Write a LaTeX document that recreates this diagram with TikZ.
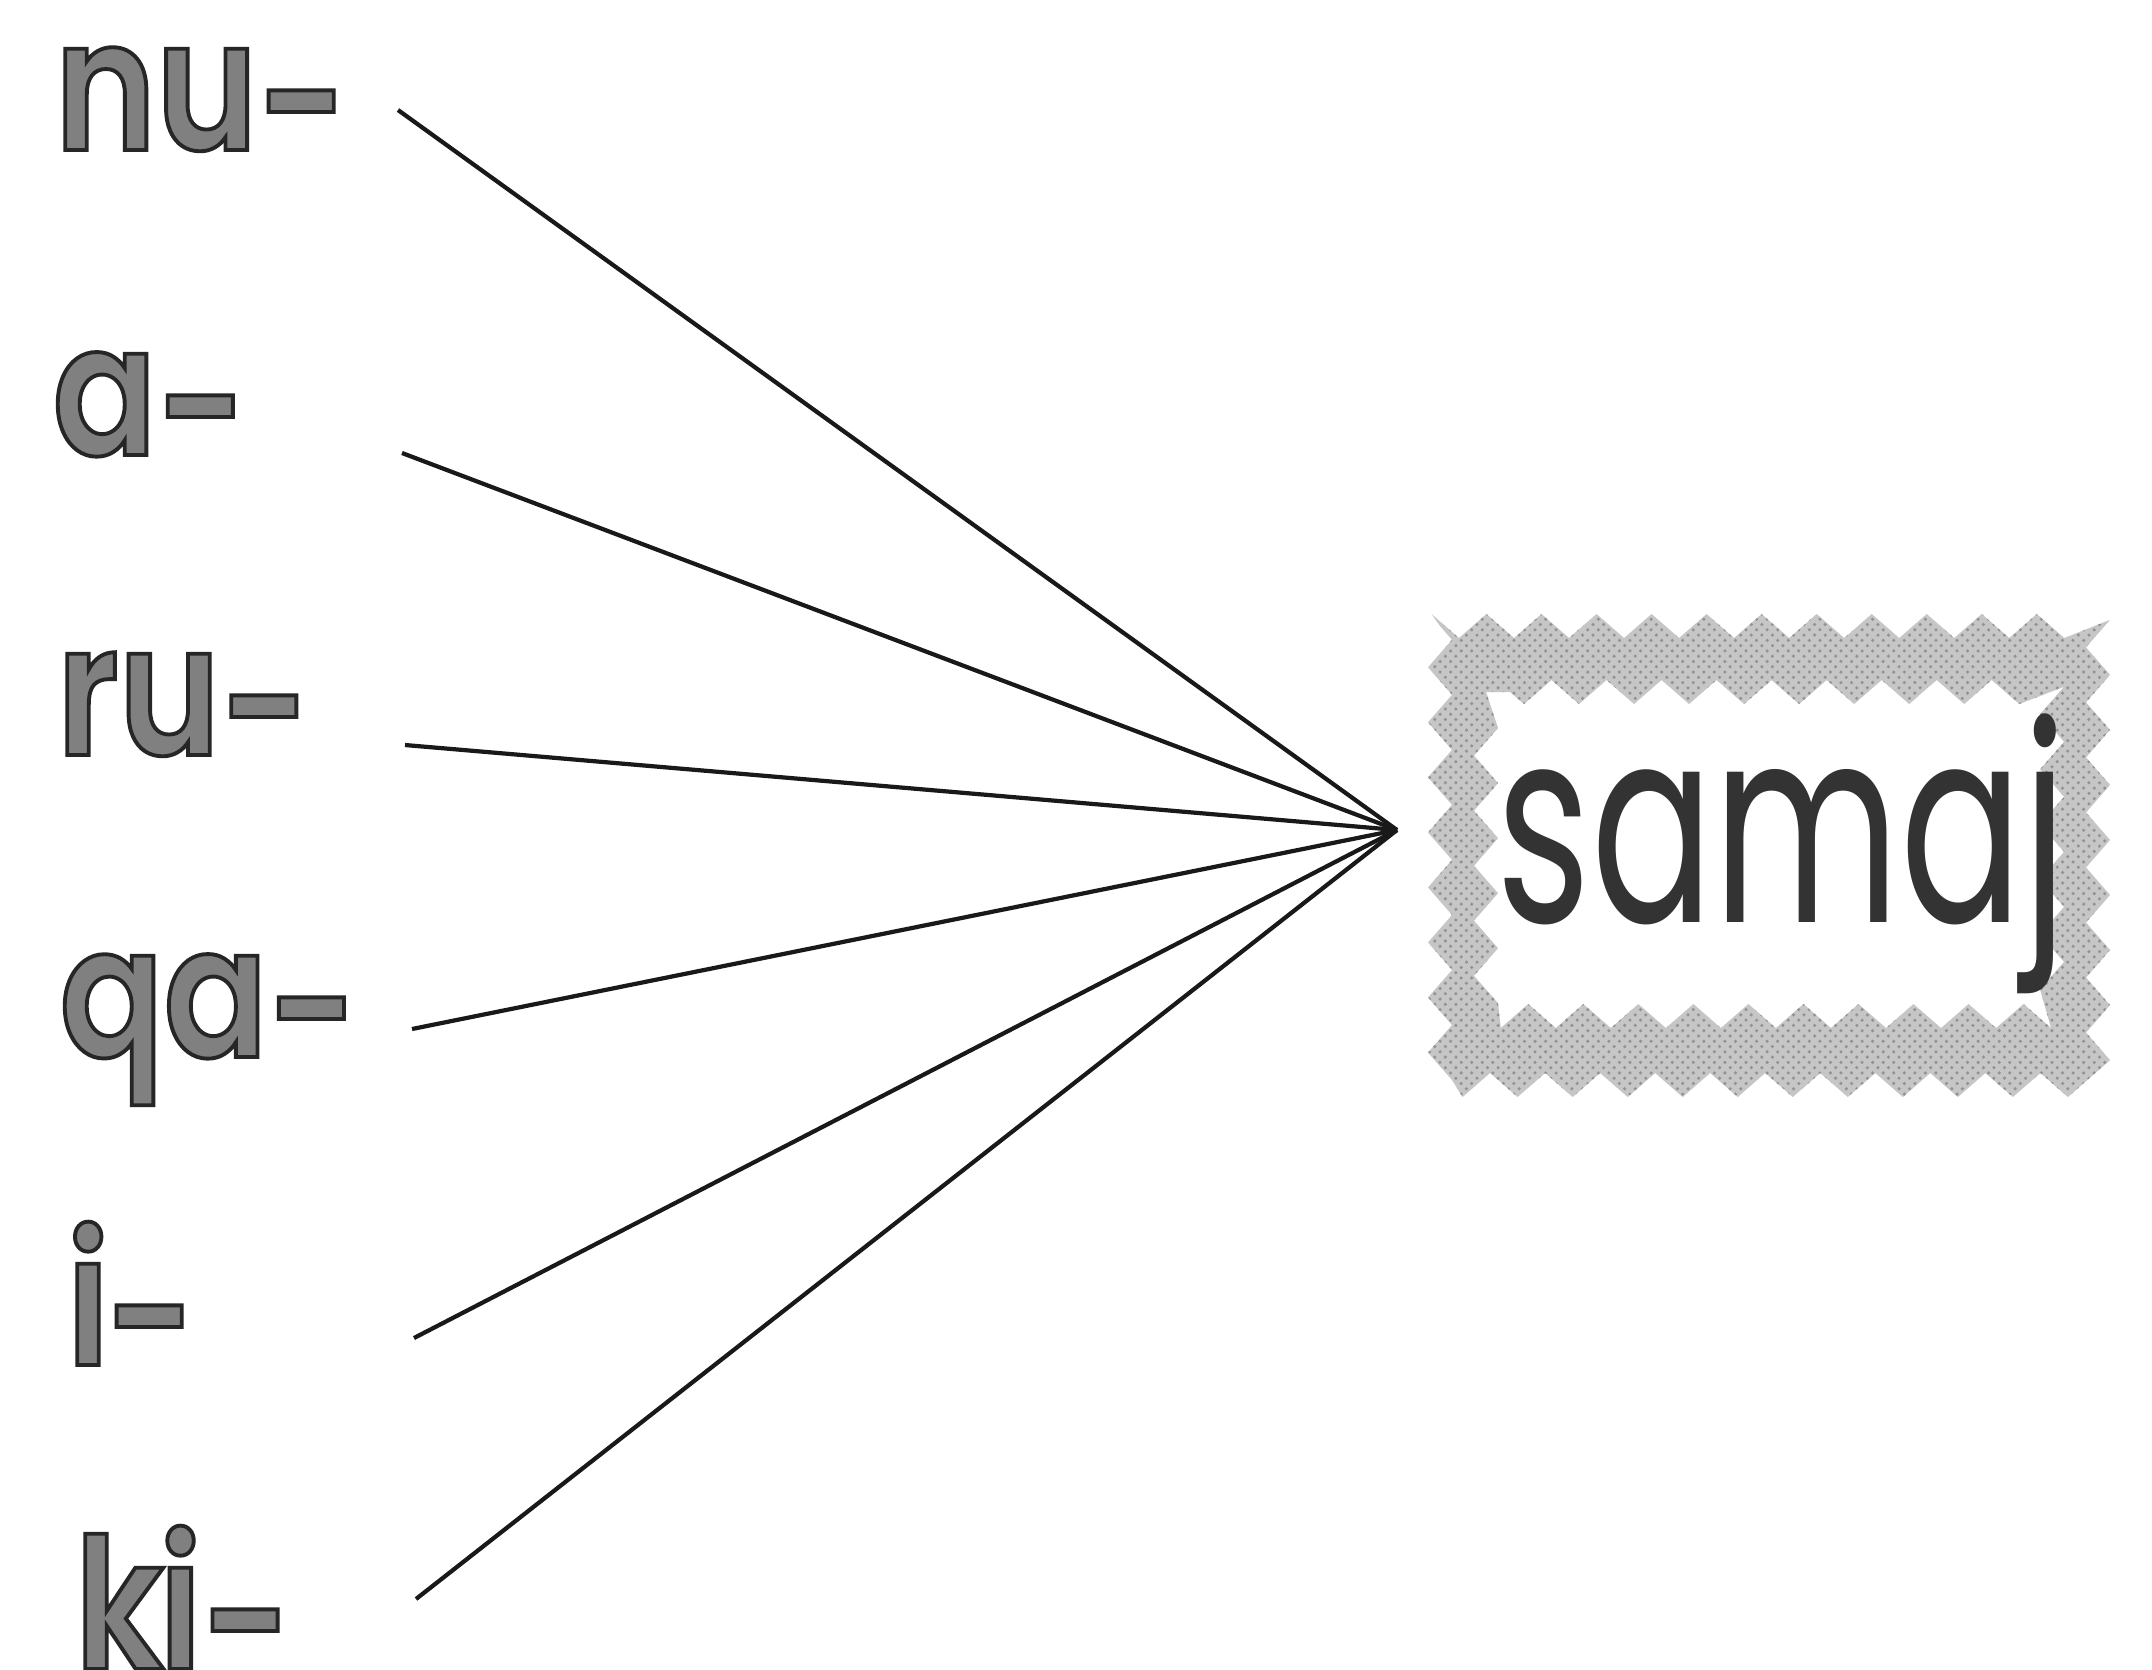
\documentclass[tikz,border=0pt]{standalone}
\usepackage{fontspec}
\setmainfont{Poppins}
\newfontfamily\labelfont[FakeStretch=0.84]{Poppins SemiBold}
\newfontfamily\boxfont[FakeStretch=0.66]{Poppins}
\usetikzlibrary{decorations.pathmorphing,patterns}
\newcommand\outlinetext[1]{\special{pdf:literal direct 2 Tr 1.1 w 0.15 0.15 0.15 RG}#1\special{pdf:literal direct 0 Tr}}
\newcommand\hy{\raisebox{-0.09em}{-}}
\tikzset{
  affixlabel/.style={anchor=base west, inner sep=0pt, text={rgb,1:red,0.5;green,0.5;blue,0.5}, font=\labelfont\fontsize{52}{60}\selectfont},
  link/.style={line width=1.2pt, black!90},
  band/.style={decorate, decoration={zigzag, segment length=0.55cm, amplitude=0.12cm}, even odd rule}
}
\begin{document}
\begin{tikzpicture}[x=0.01cm,y=-0.01cm]
\useasboundingbox (0,0) rectangle (2152,1669);
\fill[white] (0,0) rectangle (2152,1669);
% labels
\node[affixlabel] (nu) at (54,150) {\outlinetext{nu\hy}};
\node[affixlabel] (a)  at (52,455) {\outlinetext{a\hy}};
\node[affixlabel] (ru) at (56,755) {\outlinetext{ru\hy}};
\node[affixlabel] (qa) at (59,1057) {\outlinetext{qa\hy}};
\node[affixlabel] (i)  at (66,1365) {\outlinetext{i\kern-0.02em\hy}};
\node[affixlabel] (ki) at (74,1669) {\outlinetext{k\kern-0.03em i\hy}};
% line starts and hub
\coordinate (snu) at (398,110);
\coordinate (sa)  at (402,453);
\coordinate (sru) at (405,745);
\coordinate (sqa) at (412,1029);
\coordinate (si)  at (414,1338);
\coordinate (ski) at (416,1599);
\coordinate (hub) at (1397,830);
\foreach \s in {snu,sa,sru,sqa,si,ski} \draw[link] (\s) -- (hub);
% box border
\fill[band, gray!45] (1440,626) rectangle (2098,1085) (1486,692) rectangle (2052,1016);
\fill[band, pattern=crosshatch dots, pattern color=gray!85] (1440,626) rectangle (2098,1085) (1486,692) rectangle (2052,1016);
\node[anchor=base west, inner sep=0pt, text=black!80, font=\boxfont\fontsize{78}{90}\selectfont] (samaj) at (1496,922) {samaj};
\end{tikzpicture}
\end{document}
